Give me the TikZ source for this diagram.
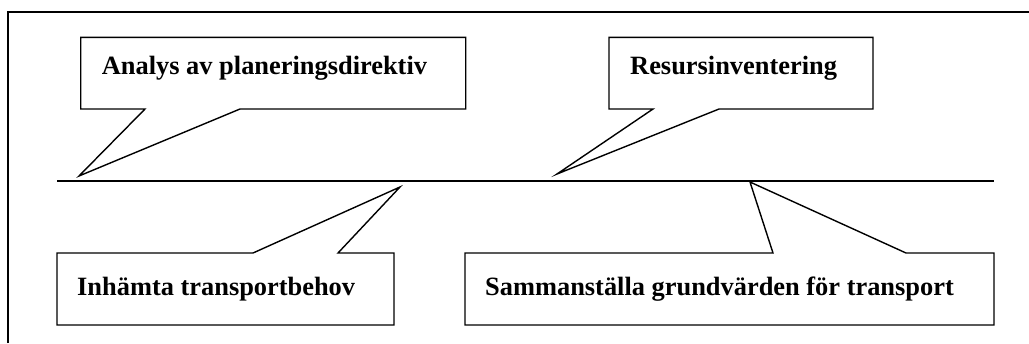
\documentclass[tikz,border=0pt]{standalone}
\usepackage{fontspec}
\setmainfont{Liberation Serif}
\begin{document}
\begin{tikzpicture}[x=1pt,y=-1pt,
  callout/.style={draw=black,line width=1.4pt,line join=miter,fill=white},
  label/.style={anchor=base west,inner sep=0pt,font=\fontsize{26.4}{30}\selectfont\bfseries},
  frameline/.style={draw=black,line width=2pt}]
  \useasboundingbox (0,0) rectangle (1029,343);
  % outer frame (left and top edges)
  \draw[frameline] (8,343) -- (8,12) -- (1029,12);
  % time axis
  \coordinate (axL) at (57,181);
  \coordinate (axR) at (994,181);
  \draw[line width=1.4pt] (axL) -- (axR);
  % upper callouts
  \draw[callout] (80.7,37.3) -- (465.7,37.3) -- (465.7,109) -- (240,109)
     -- (79,176) -- (145,109) -- (80.7,109) -- cycle;
  \draw[callout] (609,37.3) -- (873,37.3) -- (873,109) -- (719,109)
     -- (557,174) -- (653,109) -- (609,109) -- cycle;
  % lower callouts
  \draw[callout] (57,253) -- (253,253) -- (400,187) -- (338,253)
     -- (394,253) -- (394,325) -- (57,325) -- cycle;
  \draw[callout] (465,253) -- (773,253) -- (750,182) -- (906,253)
     -- (994,253) -- (994,325) -- (465,325) -- cycle;
  % labels
  \node[label] (analys) at (101.7,74.5) {Analys av planeringsdirektiv};
  \node[label] (resurs) at (630,74.5) {Resursinventering};
  \node[label] (inhamta) at (77,295) {Inhämta transportbehov};
  \node[label] (samman) at (485,295) {Sammanställa grundvärden för transport};
\end{tikzpicture}
\end{document}
